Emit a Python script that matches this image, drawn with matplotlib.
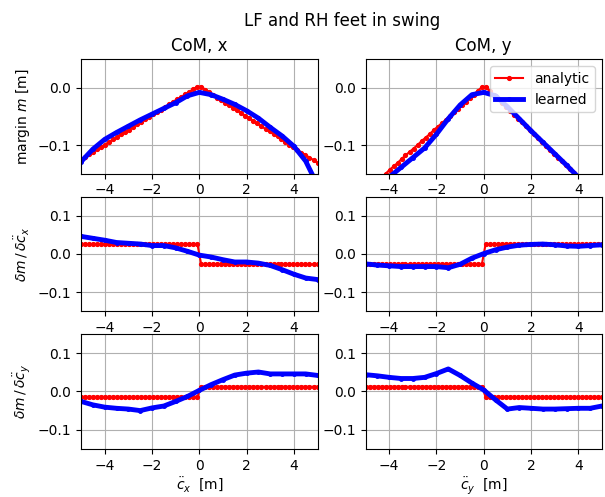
import matplotlib
matplotlib.use("Agg")
from matplotlib import pyplot as plt

# ------------------------------------------------------------- #
# Data
# ------------------------------------------------------------- #

# sampling grid of the analytic solution (60 samples in [-5, 5])
x_analytic = [
    -5.00, -4.83, -4.66, -4.49, -4.32, -4.15, -3.98, -3.81, -3.64, -3.47,
    -3.31, -3.14, -2.97, -2.80, -2.63, -2.46, -2.29, -2.12, -1.95, -1.78,
    -1.61, -1.44, -1.27, -1.10, -0.93, -0.76, -0.59, -0.42, -0.25, -0.08,
    0.08, 0.25, 0.42, 0.59, 0.76, 0.93, 1.10, 1.27, 1.44, 1.61,
    1.78, 1.95, 2.12, 2.29, 2.46, 2.63, 2.80, 2.97, 3.14, 3.31,
    3.47, 3.64, 3.81, 3.98, 4.15, 4.32, 4.49, 4.66, 4.83, 5.00,
]

# grid of the learned model readout
x_learned = [
    -5.0, -4.5, -4.0, -3.5, -3.0, -2.5, -2.0, -1.5, -1.0, -0.5, 0.0,
    0.5, 1.0, 1.5, 2.0, 2.5, 3.0, 3.5, 4.0, 4.5, 5.0,
]

# margin, CoM x
margin_x_analytic = [
    -0.125, -0.121, -0.116, -0.112, -0.107, -0.103, -0.099, -0.094, -0.090, -0.086,
    -0.081, -0.077, -0.073, -0.068, -0.064, -0.059, -0.055, -0.051, -0.046, -0.042,
    -0.038, -0.033, -0.029, -0.024, -0.020, -0.016, -0.011, -0.007, -0.002, 0.002,
    0.002, -0.003, -0.007, -0.012, -0.017, -0.021, -0.026, -0.030, -0.035, -0.039,
    -0.044, -0.049, -0.053, -0.058, -0.062, -0.067, -0.072, -0.076, -0.081, -0.085,
    -0.090, -0.094, -0.099, -0.103, -0.108, -0.113, -0.117, -0.122, -0.126, -0.131,
]
margin_x_learned = [
    -0.129, -0.107, -0.090, -0.078, -0.067, -0.056, -0.046, -0.036, -0.026, -0.014, -0.008,
    -0.012, -0.020, -0.029, -0.040, -0.053, -0.069, -0.084, -0.102, -0.128, -0.170,
]

# margin, CoM y
margin_y_analytic = [
    -0.181, -0.175, -0.168, -0.162, -0.156, -0.150, -0.143, -0.137, -0.131, -0.124,
    -0.118, -0.112, -0.106, -0.100, -0.093, -0.087, -0.081, -0.074, -0.068, -0.062,
    -0.056, -0.049, -0.043, -0.037, -0.030, -0.024, -0.018, -0.012, -0.005, 0.001,
    0.001, -0.006, -0.013, -0.020, -0.026, -0.033, -0.040, -0.047, -0.054, -0.060,
    -0.067, -0.074, -0.081, -0.088, -0.094, -0.101, -0.108, -0.115, -0.122, -0.128,
    -0.135, -0.142, -0.148, -0.155, -0.162, -0.169, -0.176, -0.182, -0.189, -0.196,
]
margin_y_learned = [
    -0.190, -0.173, -0.156, -0.139, -0.122, -0.105, -0.081, -0.054, -0.030, -0.012, -0.008,
    -0.014, -0.033, -0.054, -0.075, -0.095, -0.115, -0.135, -0.156, -0.176, -0.196,
]

# gradient w.r.t. CoM acceleration x
dm_dcx_x_analytic = [0.026] * 30 + [-0.027] * 30
dm_dcx_x_learned = [
    0.046, 0.041, 0.036, 0.030, 0.028, 0.026, 0.022, 0.022, 0.016, 0.007, -0.003,
    -0.008, -0.015, -0.021, -0.021, -0.024, -0.030, -0.041, -0.053, -0.063, -0.067,
]
dm_dcx_y_analytic = [-0.027] * 30 + [0.026] * 30
dm_dcx_y_learned = [
    -0.026, -0.029, -0.031, -0.033, -0.033, -0.033, -0.033, -0.036, -0.027, -0.011, 0.001,
    0.011, 0.018, 0.023, 0.025, 0.026, 0.024, 0.021, 0.020, 0.022, 0.024,
]

# gradient w.r.t. CoM acceleration y
dm_dcy_x_analytic = [-0.014] * 30 + [0.0125] * 30
dm_dcy_x_learned = [
    -0.026, -0.035, -0.041, -0.044, -0.046, -0.050, -0.043, -0.038, -0.026, -0.013, 0.003,
    0.018, 0.031, 0.043, 0.048, 0.051, 0.046, 0.046, 0.046, 0.046, 0.042,
]
dm_dcy_y_analytic = [0.0125] * 30 + [-0.014] * 30
dm_dcy_y_learned = [
    0.044, 0.041, 0.037, 0.034, 0.034, 0.037, 0.047, 0.059, 0.042, 0.022, 0.004,
    -0.022, -0.046, -0.042, -0.044, -0.046, -0.046, -0.045, -0.044, -0.044, -0.038,
]

# ------------------------------------------------------------- #
# Plot
# ------------------------------------------------------------- #


def draw_panel(ax, analytic, learned, ylim):
    ax.plot(x_analytic, analytic, color="r", marker=".", markersize=5.5, linewidth=1.5, label="analytic")
    ax.plot(x_learned, learned, color="b", marker=".", markersize=5, linewidth=3.5, label="learned")
    ax.set_xlim(-5, 5)
    ax.set_ylim(*ylim)
    ax.set_xticks([-4, -2, 0, 2, 4])
    ax.grid(True)


fig, axes = plt.subplots(3, 2, figsize=(6.05, 4.97), dpi=100)
plt.subplots_adjust(left=0.134, right=0.995, top=0.881, bottom=0.097, wspace=0.203, hspace=0.2)

draw_panel(axes[0, 0], margin_x_analytic, margin_x_learned, (-0.15, 0.05))
draw_panel(axes[0, 1], margin_y_analytic, margin_y_learned, (-0.15, 0.05))
draw_panel(axes[1, 0], dm_dcx_x_analytic, dm_dcx_x_learned, (-0.15, 0.15))
draw_panel(axes[1, 1], dm_dcx_y_analytic, dm_dcx_y_learned, (-0.15, 0.15))
draw_panel(axes[2, 0], dm_dcy_x_analytic, dm_dcy_x_learned, (-0.15, 0.15))
draw_panel(axes[2, 1], dm_dcy_y_analytic, dm_dcy_y_learned, (-0.15, 0.15))

for ax in axes[0]:
    ax.set_yticks([-0.1, 0.0])
for ax in axes[1:].ravel():
    ax.set_yticks([-0.1, 0.0, 0.1])

axes[0, 0].set_title("CoM, x")
axes[0, 1].set_title("CoM, y")
axes[0, 0].set_ylabel("margin $m$ [m]")
axes[1, 0].set_ylabel(r"$\delta m\,/\,\delta \ddot{c}_x\,$")
axes[2, 0].set_ylabel(r"$\delta m\,/\,\delta \ddot{c}_y\,$")
axes[2, 0].set_xlabel(r"$\ddot{c}_x\;$ [m]", labelpad=2)
axes[2, 1].set_xlabel(r"$\ddot{c}_y\;$ [m]", labelpad=2)
axes[0, 1].legend(loc="upper right")

fig.suptitle("LF and RH feet in swing", x=0.565, y=0.975)

plt.savefig("out.png", dpi=100)
